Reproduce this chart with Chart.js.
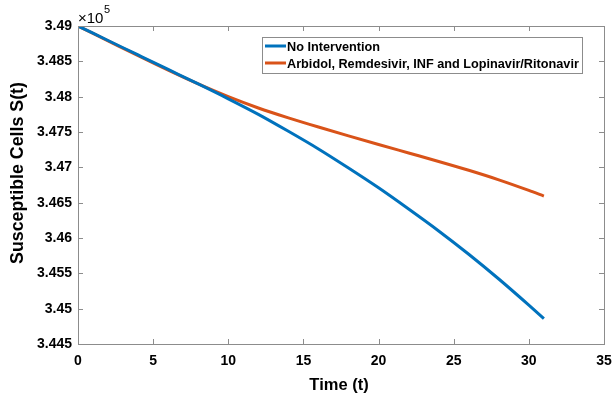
<!DOCTYPE html>
<html><head><meta charset="utf-8">
<script src="https://cdn.jsdelivr.net/npm/chart.js@4/dist/chart.umd.min.js"></script>
<style>html,body{margin:0;padding:0;background:#fff;overflow:hidden}#wrap{width:612px;height:398px}</style>
</head><body><div id="wrap"><canvas id="c" width="612" height="398"></canvas></div>
<script>
const timeDays = [0,2,4,6,8,10,12,14,16,18,20,22,24,26,28,30,31];
const noIntervention = [3.49000,3.48795,3.48590,3.48385,3.48180,3.47970,3.47750,3.47510,3.47260,3.46990,3.46710,3.46410,3.46100,3.45770,3.45420,3.45050,3.44860];
const combinedTherapy = [3.49000,3.48790,3.48580,3.48375,3.48180,3.48000,3.47840,3.47700,3.47570,3.47445,3.47323,3.47203,3.47083,3.46958,3.46823,3.46673,3.46593];
const seriesNames = ["No Intervention","Arbidol, Remdesivir, INF and Lopinavir/Ritonavir"];
const xTicks = [0,5,10,15,20,25,30,35];
const yTicks = [3.445,3.45,3.455,3.46,3.465,3.47,3.475,3.48,3.485,3.49];
const yTickLabels = ["3.445","3.45","3.455","3.46","3.465","3.47","3.475","3.48","3.485","3.49"];
const xTitle = "Time (t)";
const yTitle = "Susceptible Cells S(t)";

const FONT = "'Liberation Sans', Arial, sans-serif";
const AXIS = '#8c8c8c';

const frame = {
  id:'frame',
  afterDraw(chart){
    const {ctx, chartArea:a, scales:{x,y}} = chart;
    ctx.save();
    ctx.strokeStyle = AXIS; ctx.lineWidth = 1;
    ctx.strokeRect(a.left+0.5, a.top+0.5, a.right-a.left, a.bottom-a.top);
    ctx.beginPath();
    xTicks.forEach(v=>{const px=Math.round(x.getPixelForValue(v))+0.5;
      ctx.moveTo(px,a.bottom); ctx.lineTo(px,a.bottom-5);
      ctx.moveTo(px,a.top); ctx.lineTo(px,a.top+5);});
    yTicks.forEach(v=>{const py=Math.round(y.getPixelForValue(v))+0.5;
      ctx.moveTo(a.left,py); ctx.lineTo(a.left+5,py);
      ctx.moveTo(a.right,py); ctx.lineTo(a.right-5,py);});
    ctx.stroke();
    ctx.fillStyle='#000';
    // y title
    ctx.save();
    ctx.translate(18, 173); ctx.rotate(-Math.PI/2);
    ctx.font = "bold 17.8px "+FONT; ctx.textAlign='center'; ctx.textBaseline='middle';
    ctx.fillText(yTitle, 0, 0);
    ctx.restore();
    // x title
    ctx.font = "bold 16.5px "+FONT; ctx.textAlign='center'; ctx.textBaseline='middle';
    ctx.fillText(xTitle, (a.left+a.right)/2 - 2, 385);
    // exponent label
    ctx.font = "15px "+FONT; ctx.textBaseline='alphabetic'; ctx.textAlign='left';
    ctx.fillText("\u00d710", a.left, 23);
    const w = ctx.measureText("\u00d710").width;
    ctx.font = "11px "+FONT;
    ctx.fillText("5", a.left+w+0.5, 13);
    // legend
    const lx=262, ly=37, lw=320, lh=36;
    ctx.fillStyle='#fff'; ctx.fillRect(lx,ly,lw,lh);
    ctx.strokeStyle='#8c8c8c'; ctx.lineWidth=1;
    ctx.strokeRect(lx+0.5,ly+0.5,lw,lh);
    ctx.font = "bold 12.7px "+FONT; ctx.textBaseline='middle'; ctx.textAlign='left';
    chart.data.datasets.forEach((ds,i)=>{
      const cy = ly+9+i*17;
      ctx.strokeStyle=ds.borderColor; ctx.lineWidth=3;
      ctx.beginPath(); ctx.moveTo(lx+3,cy); ctx.lineTo(lx+24,cy); ctx.stroke();
      ctx.fillStyle='#000'; ctx.fillText(ds.label, lx+25, cy+1);
    });
    ctx.restore();
  }
};

new Chart(document.getElementById('c'), {
  type:'line',
  data:{datasets:[
    {label:seriesNames[0], data:timeDays.map((t,i)=>({x:t,y:noIntervention[i]})), borderColor:'#0072BD', borderWidth:3, pointRadius:0, cubicInterpolationMode:'monotone', fill:false},
    {label:seriesNames[1], data:timeDays.map((t,i)=>({x:t,y:combinedTherapy[i]})), borderColor:'#D95319', borderWidth:3, pointRadius:0, cubicInterpolationMode:'monotone', fill:false}
  ]},
  options:{
    responsive:false, animation:false, devicePixelRatio:1,
    layout:{padding:{top:26,right:8,left:0,bottom:0}},
    plugins:{legend:{display:false}, tooltip:{enabled:false}},
    scales:{
      x:{type:'linear', min:0, max:35,
        afterBuildTicks(s){s.ticks = xTicks.map(v=>({value:v}));},
        afterFit(s){s.height=54; s.paddingRight=0; s.paddingLeft=0;},
        grid:{display:false, drawTicks:false}, border:{display:false},
        ticks:{color:'#000', font:{family:FONT, size:14, weight:'bold'}, padding:9, maxRotation:0},
        title:{display:false}
      },
      y:{type:'linear', min:3.445, max:3.49,
        afterBuildTicks(s){s.ticks = yTicks.map(v=>({value:v}));},
        afterFit(s){s.width=78; s.paddingTop=0; s.paddingBottom=0;},
        grid:{display:false, drawTicks:false}, border:{display:false},
        ticks:{color:'#000', font:{family:FONT, size:14, weight:'bold'}, padding:6,
          callback(v){const i=yTicks.findIndex(t=>Math.abs(t-v)<1e-9); return i>=0?yTickLabels[i]:'';}},
        title:{display:false}
      }
    }
  },
  plugins:[frame]
});
</script></body></html>
